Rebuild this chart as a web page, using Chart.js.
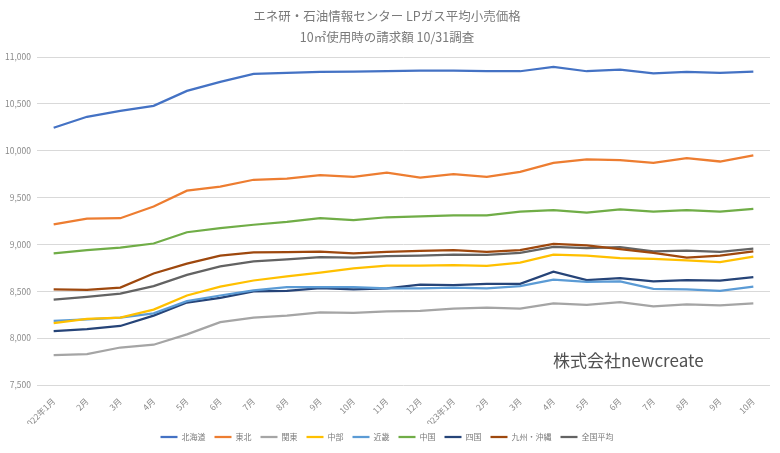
<!DOCTYPE html>
<html>
<head>
<meta charset="utf-8">
<script src="https://cdn.jsdelivr.net/npm/chart.js@4"></script>
<style>
  body { margin: 0; background: #fff; }
  #wrap { width: 780px; height: 453px; }
</style>
</head>
<body>
<div id="wrap"><canvas id="myChart"></canvas></div>
<script>
// 月ラベル
const months = ['2022年1月', '2月', '3月', '4月', '5月', '6月', '7月', '8月', '9月', '10月', '11月', '12月',
    '2023年1月', '2月', '3月', '4月', '5月', '6月', '7月', '8月', '9月', '10月'];

const hokkaido = [10245, 10362, 10425, 10479, 10638, 10734, 10819, 10830, 10840, 10845, 10850, 10855,
    10855, 10848, 10848, 10894, 10848, 10865, 10825, 10840, 10830, 10845];
const tohoku = [9213, 9276, 9280, 9404, 9574, 9617, 9690, 9702, 9740, 9722, 9765, 9713,
    9750, 9720, 9775, 9870, 9907, 9900, 9870, 9920, 9885, 9950];
const kanto = [7820, 7830, 7900, 7930, 8040, 8170, 8220, 8240, 8275, 8270, 8285, 8290,
    8315, 8325, 8315, 8370, 8355, 8385, 8340, 8360, 8350, 8370];
const chubu = [8160, 8205, 8220, 8305, 8455, 8550, 8615, 8660, 8700, 8745, 8775, 8775,
    8778, 8770, 8805, 8890, 8880, 8855, 8845, 8830, 8810, 8870];
const kinki = [8185, 8200, 8220, 8265, 8395, 8455, 8510, 8545, 8545, 8545, 8530, 8530,
    8540, 8530, 8555, 8625, 8600, 8605, 8525, 8520, 8505, 8550];
const chugoku = [8904, 8940, 8965, 9010, 9130, 9175, 9210, 9240, 9280, 9260, 9290, 9300,
    9310, 9310, 9350, 9365, 9340, 9375, 9350, 9365, 9350, 9380];
const shikoku = [8075, 8095, 8130, 8240, 8380, 8430, 8500, 8505, 8535, 8520, 8530, 8570,
    8565, 8580, 8580, 8710, 8620, 8640, 8605, 8620, 8615, 8650];
const kyushu = [8520, 8515, 8540, 8690, 8795, 8880, 8915, 8918, 8922, 8905, 8920, 8932,
    8938, 8920, 8940, 9005, 8990, 8950, 8910, 8860, 8880, 8925];
const zenkoku = [8410, 8440, 8475, 8555, 8675, 8765, 8820, 8840, 8865, 8860, 8875, 8880,
    8890, 8888, 8910, 8975, 8960, 8970, 8925, 8935, 8920, 8955];

const yTicks = [7500, 8000, 8500, 9000, 9500, 10000, 10500, 11000];

const jp = "'Noto Sans CJK JP', 'Noto Sans', sans-serif";

function ds(label, data, color) {
    return {
        label: label,
        data: data,
        borderColor: color,
        backgroundColor: color,
        borderWidth: 2.25,
        pointRadius: 0,
        tension: 0,
        fill: false
    };
}

// 右下の社名
const watermark = {
    id: 'watermark',
    afterDraw(chart) {
        const c = chart.ctx;
        c.save();
        c.font = "17px " + jp;
        c.fillStyle = '#505050';
        c.textBaseline = 'middle';
        c.fillText('株式会社newcreate', 553, 361);
        c.restore();
    }
};

let ctx = document.getElementById('myChart');
let myChart = new Chart(ctx, {
    type: 'line',
    data: {
        labels: months,
        datasets: [
            ds('北海道', hokkaido, '#4472C4'),
            ds('東北', tohoku, '#ED7D31'),
            ds('関東', kanto, '#A5A5A5'),
            ds('中部', chubu, '#FFC000'),
            ds('近畿', kinki, '#5B9BD5'),
            ds('中国', chugoku, '#70AD47'),
            ds('四国', shikoku, '#264478'),
            ds('九州・沖縄', kyushu, '#9E480E'),
            ds('全国平均', zenkoku, '#636363')
        ]
    },
    options: {
        responsive: true,
        maintainAspectRatio: false,
        animation: false,
        layout: { padding: { left: 4, right: 10, top: 2, bottom: 2 } },
        plugins: {
            title: {
                display: true,
                text: ['エネ研・石油情報センター LPガス平均小売価格', '10㎡使用時の請求額 10/31調査'],
                color: '#7a7a7a',
                font: { family: jp, size: 12.5, weight: 'normal', lineHeight: 1.68 },
                padding: { top: 3.5, bottom: 9.5 }
            },
            legend: {
                position: 'bottom',
                labels: {
                    usePointStyle: true,
                    pointStyle: 'line',
                    pointStyleWidth: 17,
                    color: '#7a7a7a',
                    font: { family: jp, size: 8 },
                    boxHeight: 8,
                    padding: 9
                }
            },
            tooltip: { enabled: false }
        },
        scales: {
            x: {
                offset: true,
                grid: { display: false },
                border: { display: false },
                afterFit: function (scale) { scale.height = 39; },
                ticks: {
                    color: '#8a8a8a',
                    font: { family: jp, size: 8.5 },
                    minRotation: 45,
                    maxRotation: 45,
                    autoSkip: false
                }
            },
            y: {
                min: 7500,
                max: 11000,
                afterBuildTicks: function (axis) {
                    axis.ticks = yTicks.map(v => ({ value: v }));
                },
                afterFit: function (scale) { scale.width = 33; },
                grid: { color: '#D9D9D9', lineWidth: 1, drawTicks: false },
                border: { display: false },
                ticks: {
                    color: '#8a8a8a',
                    font: { family: jp, size: 8.5 },
                    padding: 6,
                    callback: v => v.toLocaleString('en-US')
                }
            }
        }
    },
    plugins: [watermark]
});
</script>
</body>
</html>
